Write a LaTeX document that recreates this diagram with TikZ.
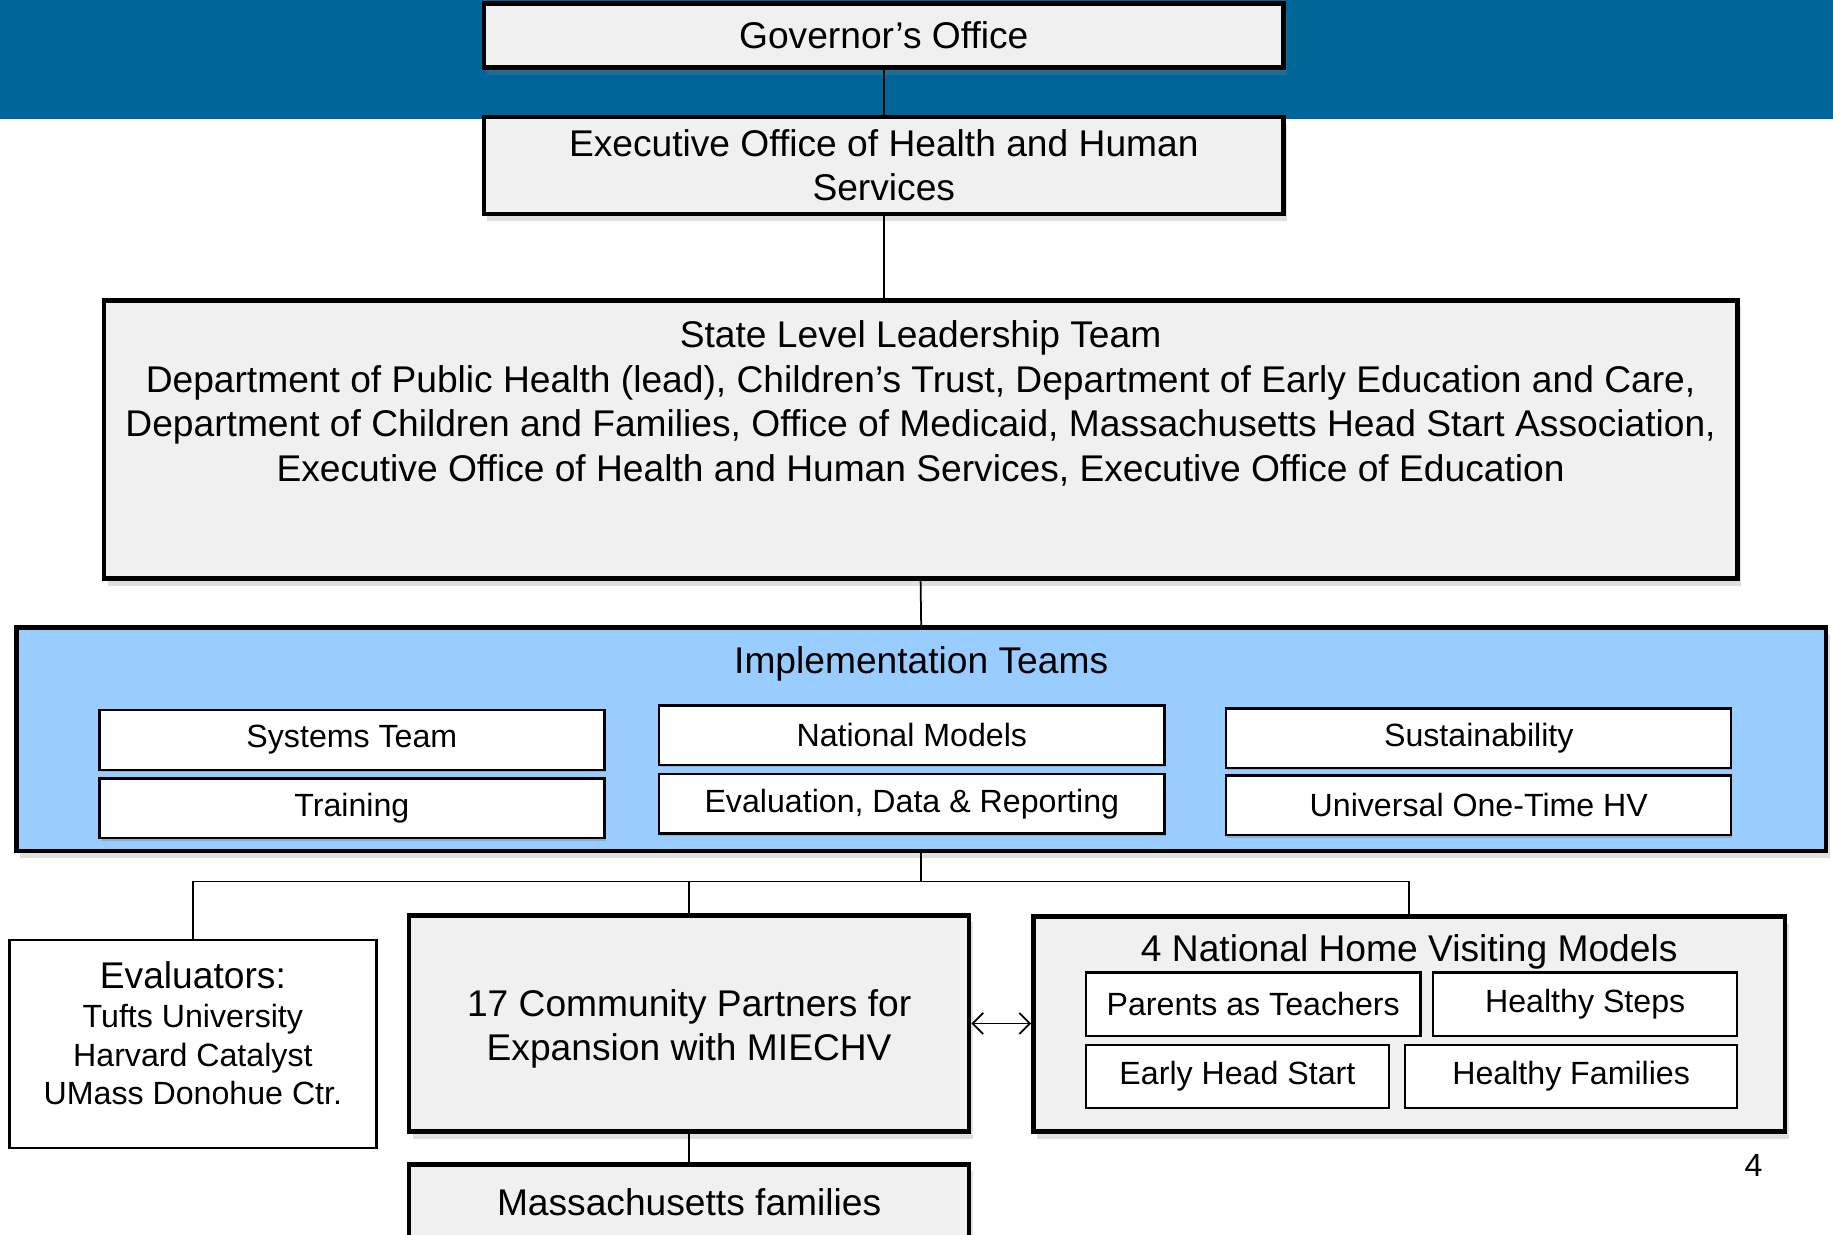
\documentclass[tikz,border=0pt]{standalone}
\usepackage{fontspec}
\setmainfont{Liberation Sans}
\usetikzlibrary{shadows,arrows.meta}

\definecolor{bandblue}{RGB}{0,102,153}
\definecolor{teamblue}{RGB}{153,204,255}
\definecolor{boxgray}{RGB}{240,240,240}
\newcommand{\bigtxt}{\fontsize{31.8}{38}\selectfont}
\newcommand{\smalltxt}{\fontsize{27.5}{33}\selectfont}

\begin{document}
\begin{tikzpicture}[x=1pt,y=-1pt,
  mainbox/.style={draw, line width=4pt, fill=boxgray, inner sep=0pt, align=center, font=\bigtxt,
    drop shadow={shadow xshift=3pt, shadow yshift=-6pt, opacity=0.25}},
  teambox/.style={draw, line width=2pt, fill=white, inner sep=0pt, font=\smalltxt,
    minimum width=432pt, minimum height=51pt,
    drop shadow={shadow xshift=1pt, shadow yshift=-2pt, opacity=0.4}},
  modelbox/.style={draw, line width=2pt, fill=white, inner sep=0pt, font=\smalltxt, minimum height=54pt},
  link/.style={line width=1.5pt}]

\useasboundingbox (0,0) rectangle (1568,1056);
\clip (0,0) rectangle (1568,1056);
\fill[bandblue] (0,0) rectangle (1568,102);

% top of the chart
\node[mainbox, minimum width=684pt, minimum height=55pt] (gov) at (756,30.5) {Governor’s Office};
\node[mainbox, minimum width=684pt, minimum height=83pt] (eohhs) at (756,141.5)
  {Executive Office of Health and Human\\Services};
\node[mainbox, minimum width=1397pt, minimum height=238pt] (state) at (787.5,376) {};
\node[font=\bigtxt, align=center] (statetxt) at (787.5,345)
  {State Level Leadership Team\\
   Department of Public Health (lead), Children’s Trust, Department of Early Education and Care,\\
   Department of Children and Families, Office of Medicaid, Massachusetts Head Start Association,\\
   Executive Office of Health and Human Services, Executive Office of Education};

\draw[link] (gov.south) -- (eohhs.north);
\draw[link] (eohhs.south) -- (eohhs.south |- state.north);

% implementation teams
\node[mainbox, fill=teamblue, minimum width=1548pt, minimum height=191pt] (impl) at (788,632.5) {};
\node[font=\bigtxt] (impltxt) at (788,568) {Implementation Teams};
\node[teambox] (systems) at (301,633) {Systems Team};
\node[teambox] (training) at (301,691.5) {Training};
\node[teambox] (natmodels) at (780,629) {National Models};
\node[teambox] (evaldata) at (780,687.5) {Evaluation, Data \& Reporting};
\node[teambox] (sustain) at (1265,631.5) {Sustainability};
\node[teambox] (onetime) at (1265,689) {Universal One-Time HV};

\draw[link] (state.south) -- (impl.north);

% bottom row
\node[draw, line width=2pt, fill=white, minimum width=314pt, minimum height=178pt] (evals) at (165,893) {};
\node[font=\smalltxt, align=center] (evalstxt) at (165,884)
  {{\bigtxt Evaluators:}\\Tufts University\\Harvard Catalyst\\UMass Donohue Ctr.};
\node[mainbox, minimum width=479pt, minimum height=185pt] (partners) at (589.5,875.5) {};
\node[font=\bigtxt, align=center] (partnerstxt) at (589.5,880)
  {17 Community Partners for\\Expansion with MIECHV};
\node[mainbox, minimum width=479pt, minimum height=64pt] (families) at (589.5,1028)
  {Massachusetts families};
\node[mainbox, minimum width=643pt, minimum height=184pt] (models) at (1205.5,876) {};
\node[font=\bigtxt] (modelstxt) at (1205.5,814) {4 National Home Visiting Models};
\node[modelbox, minimum width=286pt] (pat) at (1072,859) {Parents as Teachers};
\node[modelbox, minimum width=260pt] (hsteps) at (1356,859) {Healthy Steps};
\node[modelbox, minimum width=259pt] (ehs) at (1058.5,921) {Early Head Start};
\node[modelbox, minimum width=284pt] (hfam) at (1344,921) {Healthy Families};

\coordinate (bus) at (788,754);
\draw[link] (impl.south) -- (bus);
\draw[link] (evals.north) -- (evals.north |- bus) -- (models.north |- bus) -- (models.north);
\draw[link] (partners.north) -- (partners.north |- bus);
\draw[link] (partners.south) -- (families.north);
\draw[link, {Straight Barb[length=9pt,width=18pt]}-{Straight Barb[length=9pt,width=18pt]}]
  (partners.east) -- (partners.east -| models.west);

\node[font=\smalltxt] (pagenum) at (1500,997) {4};
\end{tikzpicture}
\end{document}
